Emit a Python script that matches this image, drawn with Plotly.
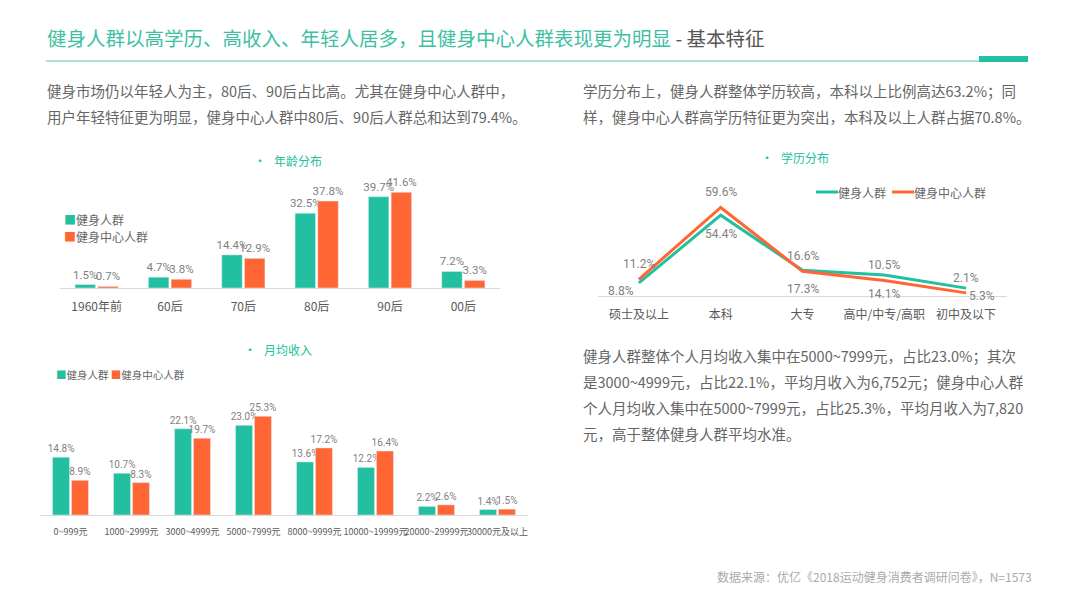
import plotly.graph_objects as go

W, H = 1080, 606

# ---- data ----
age_cats = ["1960年前", "60后", "70后", "80后", "90后", "00后"]
age_all = [1.5, 4.7, 14.4, 32.5, 39.7, 7.2]
age_center = [0.7, 3.8, 12.9, 37.8, 41.6, 3.3]

edu_cats = ["硕士及以上", "本科", "大专", "高中/中专/高职", "初中及以下"]
edu_all = [8.8, 54.4, 17.3, 14.1, 5.3]
edu_center = [11.2, 59.6, 16.6, 10.5, 2.1]

inc_cats = ["0~999元", "1000~2999元", "3000~4999元", "5000~7999元",
            "8000~9999元", "10000~19999元", "20000~29999元", "30000元及以上"]
inc_all = [14.8, 10.7, 22.1, 23.0, 13.6, 12.2, 2.2, 1.4]
inc_center = [8.9, 8.3, 19.7, 25.3, 17.2, 16.4, 2.6, 1.5]

TEAL = "#22bfa0"
ORANGE = "#ff6633"
GREY = "#7f7f7f"
FONT = "Noto Sans CJK SC"
NUM = "Roboto, Noto Sans CJK SC"


def px(x0, x1):
    return [x0 / W, x1 / W]


def py(top, bottom):
    return [1 - bottom / H, 1 - top / H]


fig = go.Figure()

# age chart
for vals, name, col in [(age_all, "健身人群", TEAL), (age_center, "健身中心人群", ORANGE)]:
    fig.add_trace(go.Bar(x=age_cats, y=vals, name=name, marker_color=col,
                         text=[f"{v}%" for v in vals], textposition="outside",
                         textfont=dict(size=11.5, color=GREY, family=NUM), constraintext="none",
                         cliponaxis=False, xaxis="x", yaxis="y"))

# education chart (labels added below as annotations)
for vals, name, col in [(edu_all, "健身人群", TEAL), (edu_center, "健身中心人群", ORANGE)]:
    fig.add_trace(go.Scatter(x=edu_cats, y=vals, name=name, mode="lines",
                             line=dict(color=col, width=3), cliponaxis=False,
                             xaxis="x2", yaxis="y2"))

# income chart
for vals, name, col in [(inc_all, "健身人群", TEAL), (inc_center, "健身中心人群", ORANGE)]:
    fig.add_trace(go.Bar(x=inc_cats, y=vals, name=name, marker_color=col,
                         text=[f"{v}%" for v in vals], textposition="outside",
                         textfont=dict(size=10, color=GREY, family=NUM), constraintext="none",
                         cliponaxis=False, xaxis="x3", yaxis="y3"))

xcommon = dict(showgrid=False, showline=True, linecolor="#d9d9d9", linewidth=1,
               ticks="", tickangle=0, fixedrange=True, ticklabelstandoff=8)
ycommon = dict(visible=False, showgrid=False, zeroline=False, fixedrange=True)

fig.update_layout(
    width=W, height=H,
    margin=dict(l=0, r=0, t=0, b=0),
    paper_bgcolor="white", plot_bgcolor="white",
    font=dict(family=FONT, color="#666666"),
    barmode="group", bargap=0.38, bargroupgap=0.1,
    showlegend=False,
    xaxis=dict(domain=px(60, 500), range=[-0.5, 5.5], anchor="y",
               tickfont=dict(size=12, color="#595959"), **xcommon),
    yaxis=dict(domain=py(173, 288), range=[0, 50], anchor="x", **ycommon),
    xaxis2=dict(domain=px(598, 1007), range=[-0.5, 4.5], anchor="y2",
                tickfont=dict(size=12, color="#595959"), **xcommon),
    yaxis2=dict(domain=py(192, 296), range=[0, 70], anchor="x2", **ycommon),
    xaxis3=dict(domain=px(40, 528), range=[-0.5, 7.5], anchor="y3",
                tickfont=dict(size=9, color="#595959"), **xcommon),
    yaxis3=dict(domain=py(398, 515), range=[0, 30], anchor="x3", **ycommon),
)

# value labels of the education lines
n = len(edu_cats)
for i, (c, v) in enumerate(zip(edu_cats, edu_all)):
    xs = -18 if i == 0 else (16 if i == n - 1 else 0)
    ys = -8 if i in (0, n - 1) else -19
    fig.add_annotation(x=c, y=v, xref="x2", yref="y2", text=f"{v}%", showarrow=False,
                       xshift=xs, yshift=ys, font=dict(size=12, color=GREY, family=NUM))
for c, v in zip(edu_cats, edu_center):
    fig.add_annotation(x=c, y=v, xref="x2", yref="y2", text=f"{v}%", showarrow=False,
                       yshift=15, font=dict(size=12, color=GREY, family=NUM))

# title line
fig.add_shape(type="line", xref="paper", yref="paper",
              x0=46 / W, x1=979 / W, y0=1 - 61 / H, y1=1 - 61 / H,
              line=dict(color="#8fd8c7", width=1.5))
fig.add_shape(type="rect", xref="paper", yref="paper",
              x0=979 / W, x1=1028 / W, y0=1 - 62 / H, y1=1 - 56 / H,
              line=dict(width=0), fillcolor=TEAL)

# legend of the education chart
for x0, x1, col in [(816, 838, TEAL), (892, 914, ORANGE)]:
    fig.add_shape(type="line", xref="paper", yref="paper",
                  x0=x0 / W, x1=x1 / W, y0=1 - 192 / H, y1=1 - 192 / H,
                  line=dict(color=col, width=3))


def note(x, y, text, size=14.5, color="#666666", anchor="left"):
    fig.add_annotation(x=x / W, y=1 - y / H, xref="paper", yref="paper",
                       text=text, showarrow=False, xanchor=anchor, yanchor="middle",
                       font=dict(size=size, color=color, family=FONT), align="left")


def sq(col):
    return f"<span style='color:{col}'>■</span>"


note(45, 37, "<span style='color:#3dbfa4'>健身人群以高学历、高收入、年轻人居多，且健身中心人群表现更为明显</span>"
             " - 基本特征", size=19.5, color="#555555")

note(45, 91, "健身市场仍以年轻人为主，80后、90后占比高。尤其在健身中心人群中，")
note(45, 117, "用户年轻特征更为明显，健身中心人群中80后、90后人群总和达到79.4%。")
note(581, 91, "学历分布上，健身人群整体学历较高，本科以上比例高达63.2%；同")
note(581, 117, "样，健身中心人群高学历特征更为突出，本科及以上人群占据70.8%。")

note(581, 355, "健身人群整体个人月均收入集中在5000~7999元，占比23.0%；其次")
note(581, 381, "是3000~4999元，占比22.1%，平均月收入为6,752元；健身中心人群")
note(581, 407, "个人月均收入集中在5000~7999元，占比25.3%，平均月收入为7,820")
note(581, 433, "元，高于整体健身人群平均水准。")

note(252, 161, "·   年龄分布", size=12, color=TEAL)
note(759, 158, "·   学历分布", size=12, color=TEAL)
note(242, 349, "·   月均收入", size=12, color=TEAL)

# legends
note(62, 220, sq(TEAL) + "健身人群", size=12)
note(62, 236, sq(ORANGE) + "健身中心人群", size=12)
note(836, 192, "健身人群", size=12)
note(912, 192, "健身中心人群", size=12)
note(54, 374, sq(TEAL) + "健身人群 " + sq(ORANGE) + "健身中心人群", size=10.5)

note(1034, 576, "数据来源：优亿《2018运动健身消费者调研问卷》，N=1573", size=12,
     color="#aaaaaa", anchor="right")

fig.write_html("out.html", config={"displayModeBar": False},
               post_script="document.body.style.margin='0';document.body.style.overflow='hidden';")
